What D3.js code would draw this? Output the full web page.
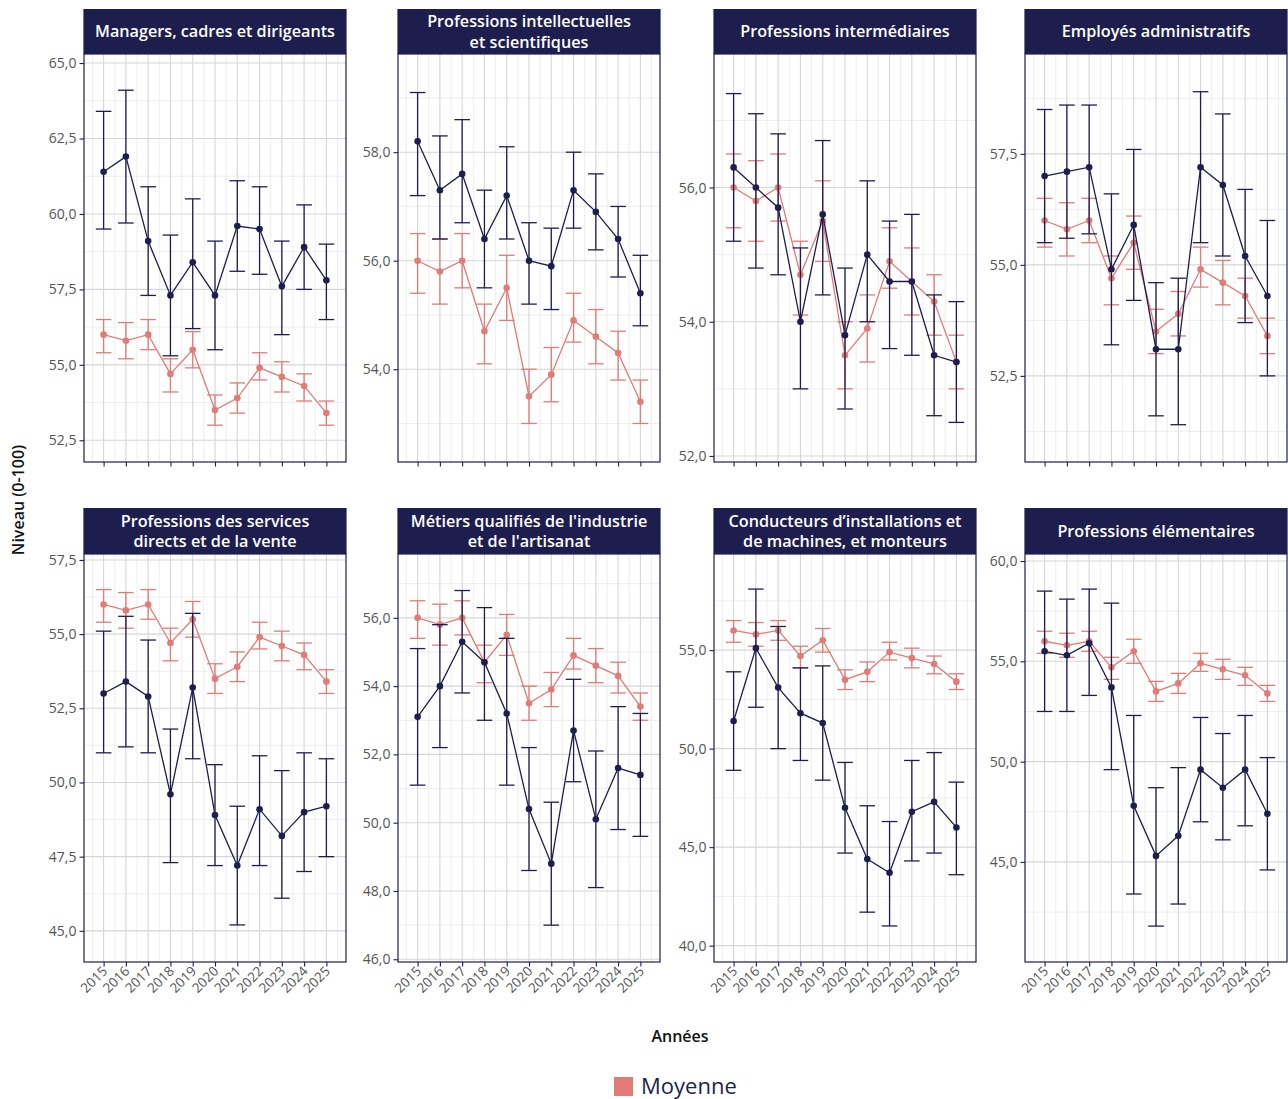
<!DOCTYPE html>
<html><head><meta charset="utf-8">
<script src="https://cdn.jsdelivr.net/npm/d3@7"></script>
<style>
html,body{margin:0;padding:0;background:#fff;}
svg{display:block;font-family:"Open Sans","Noto Sans",sans-serif;}
</style></head>
<body>
<svg id="chart" width="1288" height="1099"></svg>
<script>
// ---------- DATA ----------
const years = [2015, 2016, 2017, 2018, 2019, 2020, 2021, 2022, 2023, 2024, 2025];
const yearLabels = ["2015","2016","2017","2018","2019","2020","2021","2022","2023","2024","2025"];

const panelTitles = [
  ["Managers, cadres et dirigeants"],
  ["Professions intellectuelles", "et scientifiques"],
  ["Professions intermédiaires"],
  ["Employés administratifs"],
  ["Professions des services", "directs et de la vente"],
  ["Métiers qualifiés de l'industrie", "et de l'artisanat"],
  ["Conducteurs d’installations et", "de machines, et monteurs"],
  ["Professions élémentaires"]
];

// Moyenne (same in every panel)
const meanValues = [56.0, 55.8, 56.0, 54.7, 55.5, 53.5, 53.9, 54.9, 54.6, 54.3, 53.4];
const meanLow    = [55.4, 55.2, 55.5, 54.1, 54.9, 53.0, 53.4, 54.5, 54.1, 53.8, 53.0];
const meanHigh   = [56.5, 56.4, 56.5, 55.2, 56.1, 54.0, 54.4, 55.4, 55.1, 54.7, 53.8];

// Category series, one row per panel
const groupValues = [
  [61.4, 61.9, 59.1, 57.3, 58.4, 57.3, 59.6, 59.5, 57.6, 58.9, 57.8],
  [58.2, 57.3, 57.6, 56.4, 57.2, 56.0, 55.9, 57.3, 56.9, 56.4, 55.4],
  [56.3, 56.0, 55.7, 54.0, 55.6, 53.8, 55.0, 54.6, 54.6, 53.5, 53.4],
  [57.0, 57.1, 57.2, 54.9, 55.9, 53.1, 53.1, 57.2, 56.8, 55.2, 54.3],
  [53.0, 53.4, 52.9, 49.6, 53.2, 48.9, 47.2, 49.1, 48.2, 49.0, 49.2],
  [53.1, 54.0, 55.3, 54.7, 53.2, 50.4, 48.8, 52.7, 50.1, 51.6, 51.4],
  [51.4, 55.1, 53.1, 51.8, 51.3, 47.0, 44.4, 43.7, 46.8, 47.3, 46.0],
  [55.5, 55.3, 55.9, 53.7, 47.8, 45.3, 46.3, 49.6, 48.7, 49.6, 47.4]
];
const groupLow = [
  [59.5, 59.7, 57.3, 55.3, 56.2, 55.5, 58.1, 58.0, 56.0, 57.5, 56.5],
  [57.2, 56.4, 56.7, 55.5, 56.4, 55.2, 55.1, 56.6, 56.2, 55.7, 54.8],
  [55.2, 54.8, 54.7, 53.0, 54.4, 52.7, 54.0, 53.6, 53.5, 52.6, 52.5],
  [55.5, 55.6, 55.7, 53.2, 54.2, 51.6, 51.4, 55.5, 55.2, 53.7, 52.5],
  [51.0, 51.2, 51.0, 47.3, 50.8, 47.2, 45.2, 47.2, 46.1, 47.0, 47.5],
  [51.1, 52.2, 53.8, 53.0, 51.1, 48.6, 47.0, 51.2, 48.1, 49.8, 49.6],
  [48.9, 52.1, 50.0, 49.4, 48.4, 44.7, 41.7, 41.0, 44.3, 44.7, 43.6],
  [52.5, 52.5, 53.3, 49.6, 43.4, 41.8, 42.9, 47.0, 46.1, 46.8, 44.6]
];
const groupHigh = [
  [63.4, 64.1, 60.9, 59.3, 60.5, 59.1, 61.1, 60.9, 59.1, 60.3, 59.0],
  [59.1, 58.3, 58.6, 57.3, 58.1, 56.7, 56.6, 58.0, 57.6, 57.0, 56.1],
  [57.4, 57.1, 56.8, 55.1, 56.7, 54.8, 56.1, 55.5, 55.6, 54.4, 54.3],
  [58.5, 58.6, 58.6, 56.6, 57.6, 54.6, 54.7, 58.9, 58.4, 56.7, 56.0],
  [55.1, 55.6, 54.8, 51.8, 55.7, 50.6, 49.2, 50.9, 50.4, 51.0, 50.8],
  [55.1, 55.8, 56.8, 56.3, 55.4, 52.2, 50.6, 54.2, 52.1, 53.4, 53.2],
  [53.9, 58.1, 56.2, 54.1, 54.2, 49.3, 47.1, 46.3, 49.4, 49.8, 48.3],
  [58.5, 58.1, 58.6, 57.9, 52.3, 48.7, 49.7, 52.2, 51.4, 52.3, 50.2]
];

// Axis limits and ticks per panel
const yDomains = [
  [51.78, 65.30], [52.29, 59.81], [51.91, 57.99], [50.56, 59.75],
  [43.95, 57.70], [45.92, 57.87], [39.17, 59.88], [40.01, 60.35]
];
const yMajorTicks = [
  [52.5, 55.0, 57.5, 60.0, 62.5, 65.0],
  [54.0, 56.0, 58.0],
  [52.0, 54.0, 56.0],
  [52.5, 55.0, 57.5],
  [45.0, 47.5, 50.0, 52.5, 55.0, 57.5],
  [46.0, 48.0, 50.0, 52.0, 54.0, 56.0],
  [40.0, 45.0, 50.0, 55.0],
  [45.0, 50.0, 55.0, 60.0]
];
const yMinorTicks = [
  [53.75, 56.25, 58.75, 61.25, 63.75],
  [53.0, 55.0, 57.0, 59.0],
  [53.0, 55.0, 57.0],
  [51.25, 53.75, 56.25, 58.75],
  [46.25, 48.75, 51.25, 53.75, 56.25],
  [47.0, 49.0, 51.0, 53.0, 55.0, 57.0],
  [42.5, 47.5, 52.5, 57.5],
  [42.5, 47.5, 52.5, 57.5]
];
const xMinorTicks = [2014.5, 2015.5, 2016.5, 2017.5, 2018.5, 2019.5, 2020.5, 2021.5, 2022.5, 2023.5, 2024.5, 2025.5];

const legendLabel = "Moyenne";
const xTitle = "Années";
const yTitle = "Niveau (0-100)";

// ---------- LAYOUT ----------
const navy = "#1e1e4e";
const salmon = "#e07b78";
const colLefts = [84, 398, 714, 1025];
const panelW = 262;
const rows = [
  {stripTop: 9, stripBottom: 54, plotBottom: 462},
  {stripTop: 508, stripBottom: 554, plotBottom: 962}
];
const FONT = "Open Sans, Noto Sans, sans-serif";

const svg = d3.select("#chart");
const fmt = v => d3.format(".1f")(v).replace(".", ",");

panelTitles.forEach((title, i) => {
  const r = Math.floor(i / 4), c = i % 4;
  const L = colLefts[c], R = L + panelW;
  const row = rows[r];
  const T = row.stripBottom, B = row.plotBottom;

  const x = d3.scaleLinear().domain([2014.12, 2025.88]).range([L, R]);
  const y = d3.scaleLinear().domain(yDomains[i]).range([B, T]);

  const g = svg.append("g");

  // panel background & grid
  g.append("rect").attr("x", L).attr("y", T).attr("width", panelW).attr("height", B - T).attr("fill", "#fff");
  const grid = g.append("g");
  yMinorTicks[i].filter(v => y(v) > T && y(v) < B).forEach(v => {
    grid.append("line").attr("x1", L).attr("x2", R).attr("y1", y(v)).attr("y2", y(v))
      .attr("stroke", "#e3e3e3").attr("stroke-width", 0.6);
  });
  xMinorTicks.forEach(v => {
    grid.append("line").attr("x1", x(v)).attr("x2", x(v)).attr("y1", T).attr("y2", B)
      .attr("stroke", "#e3e3e3").attr("stroke-width", 0.6);
  });
  yMajorTicks[i].forEach(v => {
    grid.append("line").attr("x1", L).attr("x2", R).attr("y1", y(v)).attr("y2", y(v))
      .attr("stroke", "#d6d6d6").attr("stroke-width", 1.1);
  });
  years.forEach(v => {
    grid.append("line").attr("x1", x(v)).attr("x2", x(v)).attr("y1", T).attr("y2", B)
      .attr("stroke", "#d6d6d6").attr("stroke-width", 1.1);
  });

  // series drawer
  const drawSeries = (vals, lo, hi, color, lw) => {
    const s = g.append("g");
    years.forEach((yr, k) => {
      const cx = x(yr);
      s.append("line").attr("x1", cx).attr("x2", cx).attr("y1", y(lo[k])).attr("y2", y(hi[k]))
        .attr("stroke", color).attr("stroke-width", lw);
      [lo[k], hi[k]].forEach(v => {
        s.append("line").attr("x1", cx - 7.8).attr("x2", cx + 7.8).attr("y1", y(v)).attr("y2", y(v))
          .attr("stroke", color).attr("stroke-width", lw);
      });
    });
    const line = d3.line().x((d, k) => x(years[k])).y(d => y(d));
    s.append("path").attr("d", line(vals)).attr("fill", "none").attr("stroke", color).attr("stroke-width", lw);
    s.selectAll("circle").data(vals).join("circle")
      .attr("cx", (d, k) => x(years[k])).attr("cy", d => y(d)).attr("r", 3.3).attr("fill", color);
  };
  drawSeries(meanValues, meanLow, meanHigh, salmon, 1.3);
  drawSeries(groupValues[i], groupLow[i], groupHigh[i], navy, 1.3);

  // border
  g.append("rect").attr("x", L).attr("y", T).attr("width", panelW).attr("height", B - T)
    .attr("fill", "none").attr("stroke", navy).attr("stroke-width", 1.2);

  // strip
  g.append("rect").attr("x", L - 0.6).attr("y", row.stripTop).attr("width", panelW + 1.2).attr("height", T - row.stripTop)
    .attr("fill", navy);
  const midY = (row.stripTop + T) / 2;
  const lh = 20.5;
  title.forEach((t, k) => {
    g.append("text").attr("x", (L + R) / 2)
      .attr("y", midY + (k - (title.length - 1) / 2) * lh)
      .attr("dy", "0.36em").attr("text-anchor", "middle")
      .attr("fill", "#fff").attr("font-size", 16.2).attr("font-weight", 600)
      .attr("font-family", FONT).text(t);
  });

  // y axis
  const ya = g.append("g").attr("transform", `translate(${L},0)`)
    .call(d3.axisLeft(y).tickValues(yMajorTicks[i]).tickSize(4.5).tickPadding(3).tickFormat(fmt));
  ya.select(".domain").remove();
  ya.selectAll(".tick line").attr("stroke", navy).attr("stroke-width", 1.1);
  ya.selectAll(".tick text").attr("fill", "#555").attr("font-size", 14).attr("font-family", FONT);

  // x axis
  const xa = g.append("g").attr("transform", `translate(0,${B})`)
    .call(d3.axisBottom(x).tickValues(years).tickSize(4.5).tickFormat((d, k) => r === 1 ? yearLabels[k] : ""));
  xa.select(".domain").remove();
  xa.selectAll(".tick line").attr("stroke", navy).attr("stroke-width", 1.1);
  if (r === 1) {
    xa.selectAll(".tick text")
      .attr("fill", "#555").attr("font-size", 13.5).attr("font-family", FONT)
      .attr("text-anchor", "end").attr("dy", null).attr("y", 0)
      .attr("transform", "translate(4,10) rotate(-45)");
  }
});

// axis titles
svg.append("text").attr("x", 680).attr("y", 1036).attr("dy", "0.36em").attr("text-anchor", "middle")
  .attr("font-size", 16).attr("font-weight", 600).attr("fill", "#111").attr("font-family", FONT).text(xTitle);
svg.append("text").attr("transform", "translate(18,500) rotate(-90)").attr("dy", "0.36em")
  .attr("text-anchor", "middle").attr("font-size", 16).attr("font-weight", 600).attr("fill", "#111")
  .attr("font-family", FONT).text(yTitle);

// legend
svg.append("rect").attr("x", 614).attr("y", 1077).attr("width", 19).attr("height", 19).attr("fill", salmon);
svg.append("text").attr("x", 641).attr("y", 1086).attr("dy", "0.36em")
  .attr("font-size", 22).attr("font-weight", 500).attr("fill", navy).attr("font-family", FONT).text(legendLabel);
</script>
</body></html>
